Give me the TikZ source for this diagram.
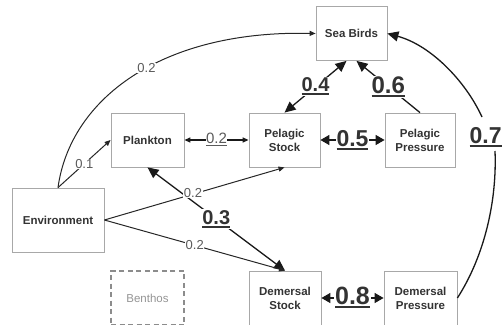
\documentclass[tikz,border=0pt]{standalone}
\usepackage{fontspec}
\setmainfont{Liberation Sans}
\usetikzlibrary{arrows.meta}
\definecolor{txt}{HTML}{333333}
\definecolor{lab}{HTML}{5A5A5A}
\definecolor{boxc}{HTML}{A8A8A8}
\newcommand\ulthick[1]{\setbox0\hbox{#1}\rlap{\rule[-3.5pt]{\wd0}{2pt}}\box0}
\newcommand\ulthin[1]{\setbox0\hbox{#1}\rlap{\rule[-2.5pt]{\wd0}{1.2pt}}\box0}
\begin{document}
\begin{tikzpicture}[x=1pt,y=1pt,
  cbox/.style={draw=boxc, line width=0.8pt, minimum height=54pt, inner sep=0pt, align=center, text=txt, font=\fontsize{11.5}{14}\selectfont\bfseries},
  conn/.style={line width=1.3pt, draw=black!90},
  lightconn/.style={line width=1pt, draw=black!85},
  sarrow/.style={-{Triangle[length=6pt,width=5pt]}},
  sboth/.style={{Triangle[length=6pt,width=5pt]}-{Triangle[length=6pt,width=5pt]}},
  barrow/.style={-{Triangle[length=11pt,width=10pt]}},
  bboth/.style={{Triangle[length=11pt,width=10pt]}-{Triangle[length=11pt,width=10pt]}},
  mboth/.style={{Triangle[length=9pt,width=10pt]}-{Triangle[length=9pt,width=10pt]}},
  slab/.style={fill=white, inner sep=0.5pt, text=lab, font=\fontsize{13}{13}\selectfont},
  blab/.style={fill=white, inner sep=1pt, text=txt, font=\bfseries\fontsize{#1}{#1}\selectfont}
]
\useasboundingbox (0,0) rectangle (503,-324);
\clip (0,0) rectangle (503,-324);

% boxes
\node[cbox, minimum width=71pt] (sb)  at (351.5,-33.5) {Sea Birds};
\node[cbox, minimum width=73pt] (pl)  at (147.5,-140) {Plankton};
\node[cbox, minimum width=71pt] (ps)  at (284.5,-140) {Pelagic\\Stock};
\node[cbox, minimum width=70pt] (pp)  at (420,-140) {Pelagic\\Pressure};
\node[cbox, minimum width=92pt, minimum height=64pt] (env) at (58,-220) {Environment};
\node[cbox, minimum width=73pt, draw=black!45, line width=1.1pt, dash pattern=on 5pt off 3.5pt, text=black!42, font=\fontsize{11.5}{14}\selectfont] (bn) at (147.5,-298) {Benthos};
\node[cbox, minimum width=72pt] (ds)  at (285,-298) {Demersal\\Stock};
\node[cbox, minimum width=73pt] (dp)  at (420.5,-298) {Demersal\\Pressure};

% connectors
\draw[lightconn, sarrow] (env.north) .. controls (70,-100) and (160,-30) .. (sb.west)
  node[slab, pos=0.55] {0.2};
\draw[lightconn, sarrow] (env.north) -- node[slab] {0.1} (pl.west);
\draw[conn, sboth] (pl.east) -- node[slab, font=\fontsize{15}{15}\selectfont] {\ulthin{0.2}} (ps.west);
\draw[conn, bboth] ([xshift=-5pt]sb.south) -- node[blab=20] {\ulthick{0.4}} (ps.north);
\draw[conn, barrow] (pp.north) -- node[blab=24] {\ulthick{0.6}} ([xshift=5pt]sb.south);
\draw[conn, mboth] (ps.east) -- node[blab=23] {\ulthick{0.5}} (pp.west);
\draw[conn, mboth] (ds.east) -- node[blab=25] {\ulthick{0.8}} (dp.west);
\draw[lightconn, sarrow] (env.east) -- (ps.south);
\draw[conn, bboth] (pl.south) -- node[blab=20] {\ulthick{0.3}} (ds.north);
\node[slab] at (193,-193) {0.2};
\draw[lightconn, sarrow] (env.east) -- node[slab] {0.2} (ds.north);

\node[blab=23, anchor=west, inner sep=0.5pt] (l7) at (469,-137) {\ulthick{0.7}};
\draw[conn] (dp.east) .. controls (485,-255) and (497,-200) .. (495,-151);
\draw[conn, barrow] (482,-117) .. controls (465,-80) and (430,-45) .. (sb.east);
\end{tikzpicture}
\end{document}
